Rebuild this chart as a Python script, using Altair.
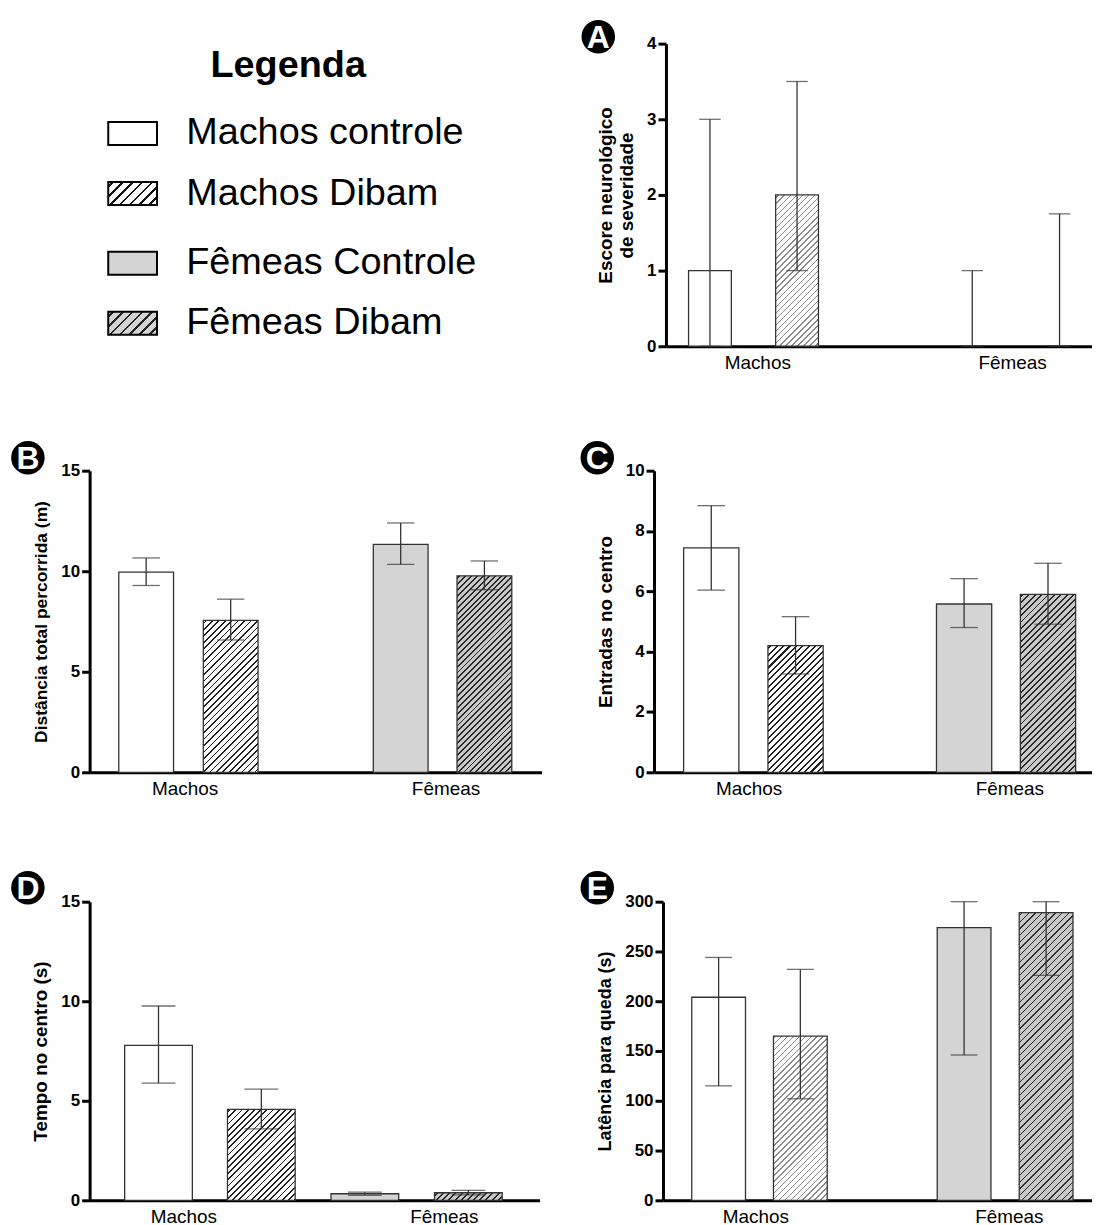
import math
import altair as alt
import pandas as pd

FONT = "Liberation Sans"

# ---------------- data ----------------
groups = ["Machos", "Fêmeas"]
treatments = ["controle", "Dibam"]
bar_group = ["Machos", "Machos", "Fêmeas", "Fêmeas"]
bar_treat = ["controle", "Dibam", "controle", "Dibam"]
bar_key = ["MC", "MD", "FC", "FD"]

legend_labels = ["Machos controle", "Machos Dibam", "Fêmeas Controle", "Fêmeas Dibam"]

a_value = [1.0, 2.0, 0.0, 0.0]
a_low = [0.0, 1.0, 0.0, 0.0]
a_high = [3.0, 3.5, 1.0, 1.75]

b_value = [9.95, 7.56, 11.34, 9.77]
b_low = [9.29, 6.58, 10.34, 9.08]
b_high = [10.66, 8.61, 12.4, 10.51]

c_value = [7.44, 4.2, 5.58, 5.9]
c_low = [6.04, 3.26, 4.8, 4.91]
c_high = [8.84, 5.16, 6.42, 6.93]

d_value = [7.78, 4.57, 0.33, 0.38]
d_low = [5.89, 3.59, 0.25, 0.27]
d_high = [9.76, 5.59, 0.41, 0.5]

e_value = [204.0, 165.0, 274.0, 289.0]
e_low = [115.0, 102.0, 146.0, 226.0]
e_high = [244.0, 232.0, 300.0, 300.0]

# ---------------- styles ----------------
WHITE = "#ffffff"
GRAY = "#d4d4d4"
HGRAY = "#c8c8c8"
DARK = "#1e1e1e"
LIGHTLINE = "#8c8c8c"
STROKE = "#333333"


def hatch(w, h, bg, fg, period, lw):
    """45-degree stripes from a linear gradient with hard stops, with the
    stops snapped to a 1/256 grid so that a gradient lookup table stays even."""
    w = max(w, 1.0)
    h = max(h, 1.0)
    k = (w + h) / (w * w + h * h)
    L = (w + h) / math.sqrt(2)
    tau = L / 256.0
    m = max(3, int(round(period / tau)))
    q = max(1, int(round(lw / tau)))
    q = min(q, m - 1)
    stops = [{"offset": 0, "color": bg}]
    i = (m - q) // 2
    while i < 256:
        a = i / 256.0
        b = min((i + q) / 256.0, 1.0)
        stops += [
            {"offset": round(a, 6), "color": bg},
            {"offset": round(a, 6), "color": fg},
            {"offset": round(b, 6), "color": fg},
            {"offset": round(b, 6), "color": bg},
        ]
        i += m
    stops.append({"offset": 1, "color": bg})
    return {"gradient": "linear", "x1": 0, "y1": 0,
            "x2": round(w * k, 6), "y2": round(h * k, 6), "stops": stops}


def series_scale(W, m1, m2, b):
    """Band scale over the two groups whose bands are exactly one series' bars."""
    s = m2 - m1
    lo = W - s - b
    return alt.Scale(domain=groups, type="band", paddingInner=1 - b / s,
                     paddingOuter=lo / (2 * s), align=(m1 - b / 2) / lo)


def label_scale(W, l1, l2):
    s = l2 - l1
    return alt.Scale(domain=groups, type="point", padding=(W / s - 1) / 2,
                     align=l1 / (W - s))


def panel(values, lows, highs, ymax, yticks, ytitle, tsize, W, H, centers,
          bwid, lab, styles, letter, bx, by, anchor=None):
    df = pd.DataFrame({"group": bar_group, "treat": bar_treat, "key": bar_key,
                       "value": values, "low": lows, "high": highs})
    xsc = {
        "controle": series_scale(W, centers[0], centers[2], bwid),
        "Dibam": series_scale(W, centers[1], centers[3], bwid),
    }
    ys = alt.Scale(domain=[0, ymax], nice=False, zero=True)
    yaxis = alt.Axis(values=yticks, title=ytitle, domainWidth=3, domainColor="black",
                     tickWidth=3, tickSize=8, tickColor="black",
                     labelFont=FONT, labelFontSize=17, labelFontWeight="bold",
                     labelColor="black", labelPadding=2, labelOverlap=False,
                     titleFont=FONT, titleFontSize=tsize, titleFontWeight="bold",
                     titleColor="black", titlePadding=10,
                     titleLineHeight=tsize + 2, grid=False, format="d")
    base = alt.Chart(df)
    layers = []
    for i, k in enumerate(bar_key):
        if values[i] <= 0:
            continue
        st = styles[i]
        if st[0] == "solid":
            fill = st[1]
        else:
            fill = hatch(bwid, values[i] / ymax * H, st[1], st[2], 4.4, st[3])
        layers.append(
            base.transform_filter(alt.datum.key == k)
            .mark_bar(fill=fill, stroke=STROKE, strokeWidth=1.3)
            .encode(x=alt.X("group:N", scale=xsc[bar_treat[i]], axis=None),
                    y=alt.Y("value:Q", scale=ys, axis=yaxis))
        )
    for tr in treatments:
        sub = base.transform_filter(alt.datum.treat == tr)
        xe = alt.X("group:N", scale=xsc[tr], axis=None)
        layers.append(
            sub.mark_rule(color=STROKE, strokeWidth=1.3).encode(
                x=xe, y=alt.Y("low:Q", scale=ys, axis=yaxis), y2="high:Q")
        )
        for fld in ["high", "low"]:
            layers.append(
                sub.mark_tick(color=STROKE, thickness=1.3, size=bwid / 2,
                              orient="horizontal").encode(
                    x=xe, y=alt.Y(f"{fld}:Q", scale=ys, axis=yaxis))
            )
    lab_df = pd.DataFrame({"group": groups})
    layers.append(
        alt.Chart(lab_df).mark_point(opacity=0).encode(
            x=alt.X("group:N", scale=label_scale(W, *lab),
                    axis=alt.Axis(orient="bottom", title=None, ticks=False,
                                  domainWidth=3, domainColor="black",
                                  labelFont=FONT, labelFontSize=19,
                                  labelFontWeight="normal", labelColor="black",
                                  labelPadding=7, labelAngle=0, grid=False)))
    )
    bd = pd.DataFrame({"t": [letter]})
    layers.append(
        alt.Chart(bd).mark_circle(color="black", opacity=1, size=1134).encode(
            x=alt.value(bx), y=alt.value(by))
    )
    layers.append(
        alt.Chart(bd).mark_text(color="white", font=FONT, fontSize=32,
                                fontWeight="bold", align="center",
                                baseline="middle", dy=1).encode(
            x=alt.value(bx), y=alt.value(by), text="t:N")
    )
    if anchor is not None:
        layers.append(
            alt.Chart(pd.DataFrame({"t": [""]})).mark_point(opacity=0, size=1)
            .encode(x=alt.value(bx), y=alt.value(anchor))
        )
    return alt.layer(*layers).resolve_scale(x="independent").properties(
        width=W, height=H)


# ---------------- legend ----------------
leg_df = pd.DataFrame({"label": legend_labels, "grp": bar_group, "tr": bar_treat})
ly = alt.Y("grp:N", scale=alt.Scale(domain=groups, range=[60, 311.15],
                                    paddingInner=0.0733, paddingOuter=0),
           axis=None)
lyo = alt.YOffset("tr:N", scale=alt.Scale(domain=treatments,
                                          paddingInner=0.619, paddingOuter=0.3095))
leg_fills = [
    WHITE,
    hatch(49, 23, WHITE, "#111111", 7.0, 1.8),
    GRAY,
    hatch(49, 23, GRAY, "#222222", 7.0, 1.8),
]
leg_layers = []
for lab_txt, f in zip(legend_labels, leg_fills):
    leg_layers.append(
        alt.Chart(leg_df).transform_filter(alt.datum.label == lab_txt)
        .mark_rect(fill=f, stroke="black", strokeWidth=2)
        .encode(x=alt.value(18.7), x2=alt.value(67.7), y=ly, yOffset=lyo)
    )
leg_layers.append(
    alt.Chart(leg_df).mark_text(align="left", baseline="middle", font=FONT,
                                fontSize=38, color="black")
    .encode(x=alt.value(97), y=ly, yOffset=lyo, text="label:N")
)
leg_layers.append(
    alt.Chart(pd.DataFrame({"t": ["Legenda"]})).mark_text(
        align="center", baseline="alphabetic", font=FONT, fontSize=38,
        fontWeight="bold", color="black")
    .encode(x=alt.value(199.5), y=alt.value(33), text="t:N")
)
# invisible anchor so the legend row lines up with the badge-led rows below
leg_layers.append(
    alt.Chart(pd.DataFrame({"t": [""]})).mark_point(opacity=0, size=1)
    .encode(x=alt.value(-81), y=alt.value(150))
)
legend = alt.layer(*leg_layers).properties(width=569, height=304)

# ---------------- panels ----------------
st_light = [("solid", WHITE), ("hatch", WHITE, LIGHTLINE, 1.3), ("solid", GRAY),
            ("hatch", HGRAY, "#262626", 1.4)]
st_dark = [("solid", WHITE), ("hatch", WHITE, DARK, 1.3), ("solid", GRAY),
           ("hatch", HGRAY, "#262626", 1.4)]

pA = panel(a_value, a_low, a_high, 4, [0, 1, 2, 3, 4],
           ["Escore neurológico", "de severidade"], 19, 428, 304,
           [44.2, 131.7, 307.7, 395.4], 43, (91.7, 347.7), st_light, "A", -68, -7)
pB = panel(b_value, b_low, b_high, 15, [0, 5, 10, 15],
           "Distância total percorrida (m)", 17.5, 454, 303,
           [56.8, 141.7, 312.5, 396.6], 55, (95.5, 357.5), st_dark, "B", -62, -13)
pC = panel(c_value, c_low, c_high, 10, [0, 2, 4, 6, 8, 10],
           "Entradas no centro", 19, 440, 303,
           [57.5, 142.2, 311.5, 395.8], 55.5, (95.0, 357.0), st_dark, "C", -57, -13)
pD = panel(d_value, d_low, d_high, 15, [0, 5, 10, 15],
           "Tempo no centro (s)", 19, 452, 300,
           [69.2, 172.5, 276.5, 380.5], 68, (94.2, 355.8), st_dark, "D", -62, -14,
           anchor=-34)
pE = panel(e_value, e_low, e_high, 300, [0, 50, 100, 150, 200, 250, 300],
           "Latência para queda (s)", 18, 431, 300,
           [55.9, 138.0, 302.5, 384.9], 54, (92.9, 347.5), st_light, "E", -66, -14)

row1 = alt.hconcat(legend, pA, spacing=10, bounds="flush")
row2 = alt.hconcat(pB, pC, spacing=113, bounds="flush")
row3 = alt.hconcat(pD, pE, spacing=124, bounds="flush")

chart = (
    alt.vconcat(row1, row2, row3, spacing=69)
    .properties(padding={"left": 0, "top": 9, "right": 0, "bottom": 0})
    .configure_view(stroke=None)
    .configure_axis(grid=False)
)

chart.save("out.html", embed_options={"renderer": "svg", "actions": False})
